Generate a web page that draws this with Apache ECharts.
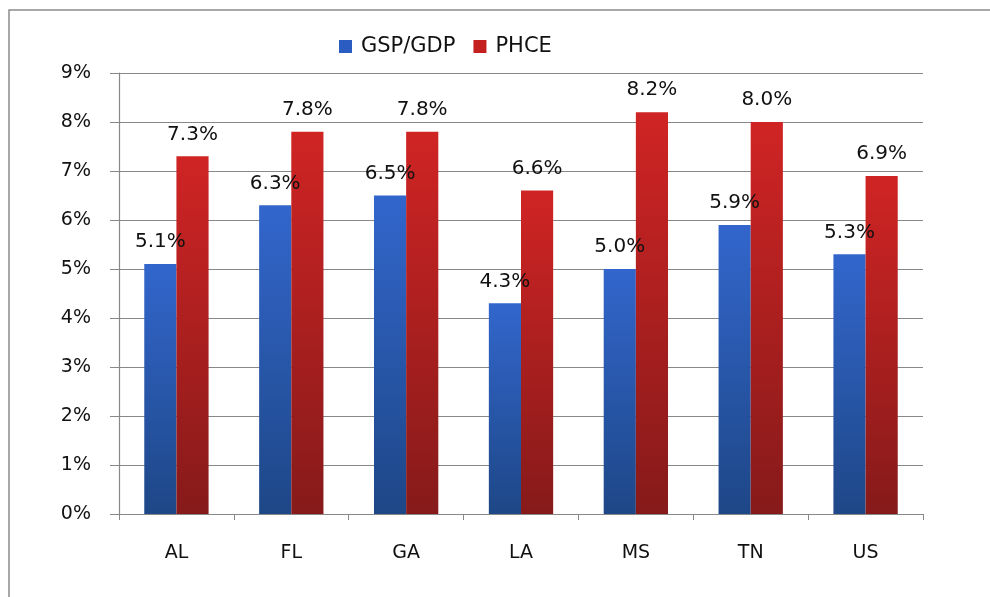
<!DOCTYPE html>
<html><head><meta charset="utf-8">
<script src="https://cdn.jsdelivr.net/npm/echarts@6/dist/echarts.min.js"></script>
<style>html,body{margin:0;padding:0;background:#fff}#c{width:990px;height:597px}</style>
</head><body><div id="c"></div>
<script>
const categories = ['AL','FL','GA','LA','MS','TN','US'];
const gspGdp = [5.1, 6.3, 6.5, 4.3, 5.0, 5.9, 5.3];
const phce = [7.3, 7.8, 7.8, 6.6, 8.2, 8.0, 6.9];
const yTicks = [0,1,2,3,4,5,6,7,8,9];

const chart = echarts.init(document.getElementById('c'));
const grad = (a,b)=>new echarts.graphic.LinearGradient(0,0,0,1,[{offset:0,color:a},{offset:1,color:b}]);
const labelStyle = {show:true, position:'top', distance:12, fontFamily:'DejaVu Sans', fontSize:20, color:'#111', formatter:p=>p.value.toFixed(1)+'%'};
chart.setOption({
  animation:false,
  graphic:[{type:'rect', shape:{x:9,y:10,width:1100,height:700}, style:{fill:null, stroke:'#8c8c8c', lineWidth:1.5}, z:-1}],
  legend:{top:31, left:334, itemWidth:13, itemHeight:13, itemGap:18,
    textStyle:{fontFamily:'DejaVu Sans', fontSize:21, color:'#111', padding:[0,0,0,4]},
    data:[{name:'GSP/GDP', icon:'rect', itemStyle:{color:'#2a5cc2'}},{name:'PHCE', icon:'rect', itemStyle:{color:'#c42020'}}]},
  grid:{left:119, right:67, top:73, bottom:83},
  xAxis:{type:'category', data:categories,
    axisLine:{lineStyle:{color:'#888', width:1.2}},
    axisTick:{show:true, length:6, lineStyle:{color:'#888'}},
    axisLabel:{margin:30, fontFamily:'DejaVu Sans', fontSize:19, color:'#111'}},
  yAxis:{type:'value', min:0, max:9, interval:1,
    axisLine:{show:true, lineStyle:{color:'#888', width:1.2}},
    axisTick:{show:true, length:9, lineStyle:{color:'#888'}},
    splitLine:{lineStyle:{color:'#888', width:1.2}},
    axisLabel:{margin:28, fontFamily:'DejaVu Sans', fontSize:19, color:'#111', formatter:v=>yTicks.includes(v)? v+'%':''}},
  series:[
    {name:'GSP/GDP', type:'bar', data:gspGdp, barGap:'0%', barCategoryGap:'44%',
      itemStyle:{color:grad('#3266cc','#1e4787')}, label:labelStyle},
    {name:'PHCE', type:'bar', data:phce,
      itemStyle:{color:grad('#d02424','#861a1a')}, label:labelStyle}
  ]
});
</script></body></html>
